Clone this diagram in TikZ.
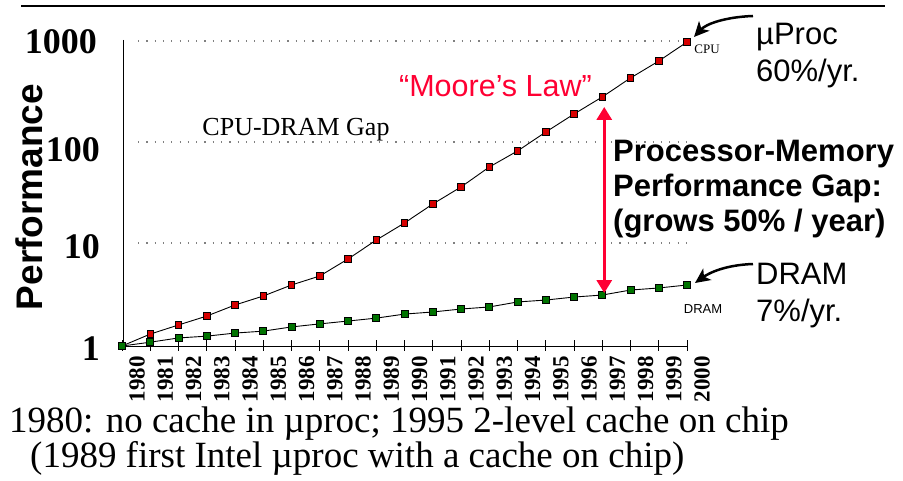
\documentclass[tikz,border=0pt]{standalone}
\usepackage{fontspec}
\setmainfont{Liberation Serif}
\setsansfont{Liberation Sans}
\usepackage{tikz}
\usetikzlibrary{arrows.meta}
\definecolor{lawred}{RGB}{255,0,51}
\definecolor{cpured}{RGB}{215,0,0}
\definecolor{dramgreen}{RGB}{0,115,0}

\begin{document}
\begin{tikzpicture}[x=1pt, y=-1pt]
\tikzset{cpumark/.style={draw=black, fill=cpured, line width=0.9pt, minimum size=6.5pt, inner sep=0pt},
 drammark/.style={cpumark, fill=dramgreen, minimum size=7pt},
 yearlab/.style={rotate=90, anchor=east, inner sep=0pt, font=\fontsize{23}{23}\selectfont\bfseries},
 perflab/.style={anchor=east, inner sep=0pt, font=\fontsize{36}{36}\selectfont\bfseries},
 dotline/.style={gray, line width=1.2pt, dash pattern=on 1.2pt off 7.1pt},
 bigsans/.style={anchor=north west, inner sep=0pt, align=left, font=\fontsize{31}{37}\selectfont\sffamily},
 curvearrow/.style={line width=2.5pt, -{Stealth[length=15pt, width=14pt, inset=4pt]}},
 gaparrow/.style={lawred, line width=3pt, {Triangle[length=13pt, width=15pt]}-{Triangle[length=13pt, width=15pt]}}}
\useasboundingbox (0,0) rectangle (903,481);
\draw[line width=1.2pt] (21,6) -- (885,6);
% axes and grid
\draw[line width=1pt] (123,40) -- (123,346);
\draw[line width=1pt] (122,346) -- (687,346);
\foreach \h in {41,142,243} \draw[dotline] (138,\h) -- (686,\h);
\foreach \yr in {1980,...,2000}{
 \draw[line width=0.8pt] ({122+28.25*(\yr-1980)},340) -- ({122+28.25*(\yr-1980)},351);
 \node[yearlab] (l\yr) at ({137+28.25*(\yr-1980)},356) {\yr};
}
\node[perflab] (p1000) at (97,42) {1000};
\node[perflab] (p100) at (100,150) {100};
\node[perflab] (p10) at (100,247) {10};
\node[perflab] (p1) at (100,349) {1};
\node[rotate=90, anchor=base, inner sep=0pt, font=\fontsize{37}{37}\selectfont\sffamily\bfseries] (perf) at (42,197) {Performance};
% data
\foreach \yr/\v in {1980/1, 1981/1.31, 1982/1.61, 1983/1.97, 1984/2.53, 1985/3.10, 1986/3.98, 1987/4.88, 1988/7.17, 1989/11.0, 1990/16.2, 1991/24.9, 1992/36.6, 1993/57.5, 1994/82.7, 1995/127, 1996/191, 1997/281, 1998/432, 1999/634, 2000/975}
 \coordinate (c\yr) at ({122+28.25*(\yr-1980)},{346-101.7*log10(\v)});
\foreach \yr/\v in {1980/1, 1981/1.09, 1982/1.20, 1983/1.25, 1984/1.34, 1985/1.40, 1986/1.54, 1987/1.65, 1988/1.76, 1989/1.88, 1990/2.06, 1991/2.16, 1992/2.31, 1993/2.42, 1994/2.71, 1995/2.83, 1996/3.03, 1997/3.17, 1998/3.55, 1999/3.72, 2000/3.98}
 \coordinate (d\yr) at ({122+28.25*(\yr-1980)},{346-101.7*log10(\v)});
\draw[line width=0.9pt] (c1980) \foreach \yr in {1981,...,2000}{ -- (c\yr)};
\draw[line width=0.9pt] (d1980) \foreach \yr in {1981,...,2000}{ -- (d\yr)};
\foreach \yr in {1980,...,2000} \node[cpumark] (cm\yr) at (c\yr) {};
\foreach \yr in {1980,...,2000} \node[drammark] (dm\yr) at (d\yr) {};
\node[font=\fontsize{13}{13}\selectfont] (cpulab) at (707,49) {CPU};
\node[font=\fontsize{13}{13}\selectfont\sffamily] (dramlab) at (703,309) {DRAM};
% labels
\node[font=\fontsize{26}{26}\selectfont] (gaplab) at (296,130) {CPU-DRAM Gap};
\node[anchor=base, inner sep=0pt, text=lawred, font=\fontsize{30.5}{30}\selectfont\sffamily] (moore) at (495.5,97) {“Moore’s Law”};
\node[bigsans] (uproc) at (756,23) {µProc\\60\%/yr.};
\node[bigsans] (dram) at (756,263) {DRAM\\7\%/yr.};
\node[bigsans, font=\fontsize{31}{35}\selectfont\sffamily\bfseries] (gap) at (613,140) {Processor-Memory\\Performance Gap:\\(grows 50\% / year)};
\node[anchor=north west, inner sep=0pt, align=left, font=\fontsize{37}{35}\selectfont] (note) at (9,407) {1980: no cache in µproc; 1995 2-level cache on chip\\\hspace*{21pt}(1989 first Intel µproc with a cache on chip)};
% arrows
\coordinate (cputip) at ([shift={(7pt,5pt)}]cm2000.center);
\coordinate (dramtip) at ([shift={(8pt,2pt)}]dm2000.center);
\draw[curvearrow] ([shift={(-3pt,7pt)}]uproc.north west) .. controls +(-28,1) and +(12,-13) .. (cputip);
\draw[curvearrow] ([shift={(-3pt,-1pt)}]dram.north west) .. controls +(-28,1) and +(14,-10) .. (dramtip);
\draw[gaparrow] ([shift={(2pt,-10pt)}]cm1997.center) -- ([shift={(2pt,2pt)}]dm1997.center);
\end{tikzpicture}
\end{document}
